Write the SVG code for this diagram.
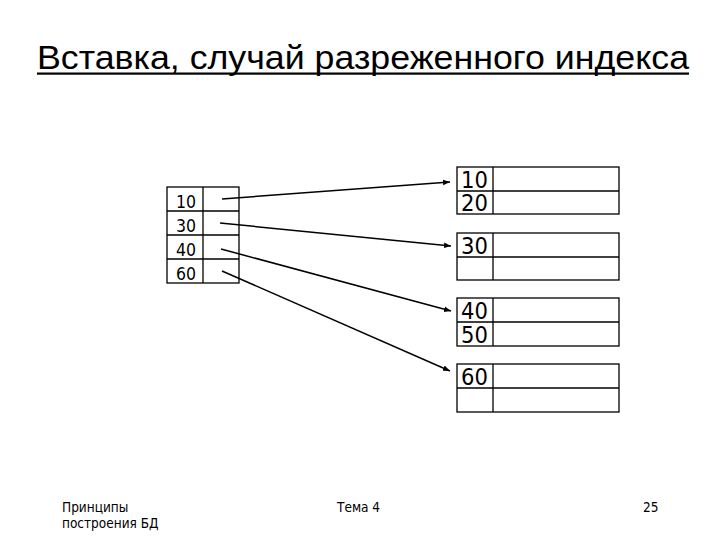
<svg xmlns="http://www.w3.org/2000/svg" width="720" height="540" viewBox="0 0 720 540">
<style>
.bg{fill:#ffffff}
.cell{fill:none;stroke:#000;stroke-width:1.3}
.title{font-family:"Liberation Sans",Arial,sans-serif;font-size:33px;fill:#000}
.num{font-family:"DejaVu Sans Condensed","DejaVu Sans",sans-serif;font-stretch:condensed;fill:#000}
.sm{font-size:17.5px}
.lg{font-size:23.5px}
.foot{font-family:"DejaVu Sans Condensed","DejaVu Sans",sans-serif;font-stretch:condensed;font-size:13.5px;fill:#000}
.conn{stroke:#000;stroke-width:1.5;fill:none;marker-end:url(#arr)}
</style>
<defs>
<marker id="arr" viewBox="0 0 10 10" refX="10" refY="5" markerWidth="7" markerHeight="7" markerUnits="userSpaceOnUse" orient="auto">
<path d="M0,1 L10,5 L0,9 z" fill="#000"/>
</marker>
</defs>
<rect class="bg" x="0" y="0" width="720" height="540"/>
<g id="title">
<text class="title" x="37" y="69" textLength="652" lengthAdjust="spacingAndGlyphs">Вставка, случай разреженного индекса</text>
<rect x="37" y="72.5" width="652" height="2.2" fill="#000"/>
</g>
<g id="index">
<rect class="cell" x="167" y="187" width="72" height="96"/>
<line class="cell" x1="203" y1="187" x2="203" y2="283"/>
<line class="cell" x1="167" y1="211" x2="239" y2="211"/>
<line class="cell" x1="167" y1="235" x2="239" y2="235"/>
<line class="cell" x1="167" y1="259" x2="239" y2="259"/>
<text class="num sm" x="176" y="207.5">10</text>
<text class="num sm" x="176" y="231.5">30</text>
<text class="num sm" x="176" y="255.5">40</text>
<text class="num sm" x="176" y="279.5">60</text>
</g>
<g id="block1">
<rect class="cell" x="457" y="167" width="162" height="47"/>
<line class="cell" x1="493" y1="167" x2="493" y2="214"/>
<line class="cell" x1="457" y1="191" x2="619" y2="191"/>
<text class="num lg" x="461" y="188">10</text>
<text class="num lg" x="461" y="211">20</text>
</g>
<g id="block2">
<rect class="cell" x="457" y="233" width="162" height="47"/>
<line class="cell" x1="493" y1="233" x2="493" y2="280"/>
<line class="cell" x1="457" y1="257" x2="619" y2="257"/>
<text class="num lg" x="461" y="254">30</text>
</g>
<g id="block3">
<rect class="cell" x="457" y="298" width="162" height="48"/>
<line class="cell" x1="493" y1="298" x2="493" y2="346"/>
<line class="cell" x1="457" y1="322" x2="619" y2="322"/>
<text class="num lg" x="461" y="319">40</text>
<text class="num lg" x="461" y="343">50</text>
</g>
<g id="block4">
<rect class="cell" x="457" y="364" width="162" height="48"/>
<line class="cell" x1="493" y1="364" x2="493" y2="412"/>
<line class="cell" x1="457" y1="388" x2="619" y2="388"/>
<text class="num lg" x="461" y="385">60</text>
</g>
<g id="connectors">
<line class="conn" x1="222" y1="199" x2="450" y2="182"/>
<line class="conn" x1="220" y1="223" x2="451" y2="246"/>
<line class="conn" x1="221" y1="249" x2="451" y2="311"/>
<line class="conn" x1="222" y1="271" x2="450" y2="371"/>
</g>
<g id="footer">
<text class="foot" x="62" y="512">Принципы</text>
<text class="foot" x="62" y="528">построения БД</text>
<text class="foot" x="337" y="512">Тема 4</text>
<text class="foot" x="643" y="512">25</text>
</g>
</svg>
